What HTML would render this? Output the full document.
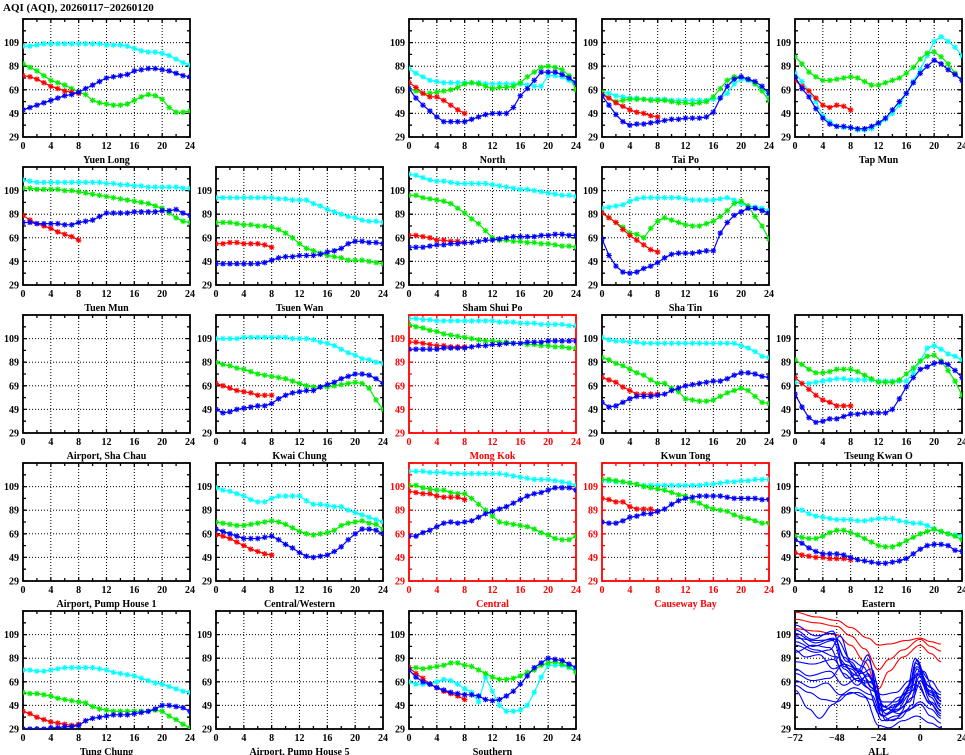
<!DOCTYPE html>
<html><head><meta charset="utf-8"><style>
html,body{margin:0;padding:0;background:#fff;}
svg{display:block;}
text{font-family:"Liberation Serif",serif;font-weight:bold;font-size:10px;}
</style></head><body>
<svg id="s" width="965" height="755" xmlns="http://www.w3.org/2000/svg">
<text x="3" y="11" style="font-size:11px">AQI (AQI), 20260117−20260120</text>
</svg>
<script>
const S=document.getElementById('s');
const NS='http://www.w3.org/2000/svg';
function el(t,a,txt){const e=document.createElementNS(NS,t);for(const k in a)e.setAttribute(k,a[k]);if(txt!==undefined)e.textContent=txt;S.appendChild(e);return e;}
const CX=[23,216,409,602,795],RY=[19,167,315,463,611],W=167,H=118;
const C={c:'#00ffff',g:'#00ee00',r:'#ff0000',b:'#0000ff'};
const add=(a,n)=>a.map(v=>v+n);
const P=[
{r:0,c:0,n:'Yuen Long',d:{
c:add([97,97,98,99,99,99,99,99,99,99,99,99,98,98,98,97,95,93,92,92,91,89,86,83,81],9),
g:add([82,79,76,72,68,66,64,61,58,56,51,49,48,47,47,48,51,54,56,55,52,45,41,41,42],9),
r:add([72,71,69,66,63,61,59,58,57],9),
b:add([44,46,48,50,52,54,56,57,59,62,65,68,71,72,73,74,77,78,79,79,78,77,75,73,72],8)}},
{r:0,c:2,n:'North',d:{
c:[87,83,80,77,76,75,75,75,75,75,75,74,74,74,74,74,74,73,72,72,81,81,80,77,75],
g:[70,68,66,66,67,68,69,71,74,75,74,72,70,71,71,72,75,80,84,88,89,88,86,81,69],
r:[75,71,66,63,63,60,56,52,49],
b:[70,62,56,51,46,42,42,42,42,44,46,48,49,49,49,54,64,70,77,84,84,84,82,79,75]}},
{r:0,c:3,n:'Tai Po',d:{
c:[67,66,64,63,62,62,61,61,61,61,60,60,60,60,60,60,61,62,66,74,78,77,74,70,64],
g:[67,62,59,60,61,61,61,60,60,60,59,58,58,57,58,59,63,70,77,80,80,78,74,68,60],
r:[65,62,58,55,52,50,49,47,46],
b:[64,56,48,42,39,40,40,41,42,43,44,44,45,45,45,46,50,62,72,78,80,78,76,72,66]}},
{r:0,c:4,n:'Tap Mun',d:{
c:[83,76,68,59,47,42,38,37,37,35,35,36,40,44,49,56,66,76,86,98,110,114,110,105,98],
g:[97,91,84,80,77,77,78,79,80,79,76,73,73,75,77,79,83,88,95,100,101,97,91,83,77],
r:[77,72,68,62,56,54,56,55,52],
b:[80,70,63,53,45,40,38,38,37,36,36,38,41,45,52,59,66,75,83,89,94,91,86,82,77]}},
{r:1,c:0,n:'Tuen Mun',d:{
c:[118,117,116,116,116,116,116,116,116,116,116,116,115,115,114,114,113,113,112,112,112,112,112,111,111],
g:[111,111,110,110,110,110,109,109,108,107,106,105,104,103,102,101,100,99,98,96,94,90,86,83,82],
r:[88,84,81,79,77,74,72,70,67],
b:[82,82,81,81,81,81,80,80,82,83,84,87,90,90,90,90,91,91,91,91,92,92,93,90,88]}},
{r:1,c:1,n:'Tsuen Wan',d:{
c:[103,103,103,103,103,103,103,103,103,102,102,101,101,101,98,96,93,91,89,87,86,84,83,83,82],
g:[82,82,82,81,80,80,79,79,78,76,73,69,64,60,58,56,54,53,52,50,50,50,49,48,47],
r:[64,64,65,65,64,64,64,63,61],
b:[47,47,47,47,47,47,47,48,50,52,53,53,54,54,54,55,57,58,60,64,66,66,65,65,64]}},
{r:1,c:2,n:'Sham Shui Po',d:{
c:[123,122,120,118,117,117,116,115,115,115,115,115,114,113,112,111,110,110,109,108,107,106,105,105,104],
g:[105,105,103,102,101,100,98,94,90,85,81,75,69,67,67,66,66,65,65,64,64,63,62,62,61],
r:[71,71,70,69,67,67,66,66,65],
b:[61,61,61,62,63,63,64,64,65,65,66,67,67,68,69,70,70,70,70,71,71,72,72,71,71]}},
{r:1,c:3,n:'Sha Tin',d:{
c:[94,95,96,97,100,102,103,103,103,103,103,103,102,101,101,101,101,102,103,101,98,96,95,94,92],
g:[90,86,82,78,73,72,69,77,83,86,84,82,80,79,79,81,83,87,92,98,100,96,87,79,68],
r:[90,86,82,76,71,67,63,59,57],
b:[68,54,45,40,39,40,43,45,48,52,55,56,56,56,57,58,58,73,82,88,91,94,94,92,90]}},
{r:2,c:0,n:'Airport, Sha Chau',d:{}},
{r:2,c:1,n:'Kwai Chung',d:{
c:[109,109,109,109,110,110,110,110,110,110,110,109,109,109,108,106,105,103,100,97,95,92,91,89,88],
g:[89,87,86,84,83,81,79,78,77,76,75,73,71,69,68,68,68,69,70,71,72,71,67,57,49],
r:[71,69,67,65,64,63,61,61,61],
b:[49,46,47,49,50,51,52,52,54,58,61,63,64,65,65,68,70,72,75,77,79,79,78,75,71]}},
{r:2,c:2,n:'Mong Kok',red:1,d:{
c:[126,126,125,125,124,124,124,124,124,124,124,124,124,123,123,123,122,122,122,121,121,121,121,120,120],
g:[121,119,118,116,115,113,112,111,110,109,108,107,107,106,106,105,105,104,104,103,103,102,102,101,101],
r:[106,106,105,104,103,103,102,102,102],
b:[100,100,100,100,100,101,101,101,101,102,103,103,104,104,105,105,105,106,106,106,107,107,107,107,107]}},
{r:2,c:3,n:'Kwun Tong',d:{
c:[110,108,107,107,106,106,105,105,105,105,105,105,105,105,105,105,105,105,105,105,103,101,98,94,93],
g:[93,91,88,86,83,80,78,74,71,71,67,64,58,57,56,56,57,60,63,65,67,65,60,55,54],
r:[76,74,72,68,65,62,62,62,62],
b:[55,51,52,55,58,60,60,60,61,62,65,67,69,70,71,72,73,73,75,78,80,80,79,77,76]}},
{r:2,c:4,n:'Tseung Kwan O',d:{
c:[72,71,71,72,73,74,75,75,74,74,74,74,73,73,73,73,73,80,90,101,103,100,96,94,91],
g:[91,87,83,80,80,81,83,83,83,81,78,75,72,72,72,74,79,84,90,94,95,90,82,73,61],
r:[76,71,66,61,57,55,52,52,52],
b:[62,51,42,38,39,41,41,43,45,45,46,46,46,46,49,58,68,76,83,85,88,89,87,82,76]}},
{r:3,c:0,n:'Airport, Pump House 1',d:{}},
{r:3,c:1,n:'Central/Western',d:{
c:[108,106,105,103,101,98,96,96,99,101,101,101,101,97,94,94,93,92,92,89,87,85,83,81,79],
g:[79,78,77,76,76,77,78,79,80,79,77,74,71,69,68,69,70,72,76,78,79,80,78,77,73],
r:[68,67,65,62,59,56,54,52,51],
b:[73,71,69,67,65,65,65,66,67,64,60,57,53,50,49,50,51,54,58,64,69,73,73,72,69]}},
{r:3,c:2,n:'Central',red:1,d:{
c:[122,122,122,121,121,121,120,120,120,120,120,120,120,120,119,118,117,116,115,115,115,114,113,112,110],
g:[110,110,108,107,106,106,104,103,103,99,94,89,84,79,78,77,76,75,73,70,68,65,64,64,67],
r:[105,104,103,103,101,100,100,100,98],
b:[67,67,70,72,75,78,79,78,79,80,83,86,88,90,92,95,98,101,103,104,106,108,108,108,106]}},
{r:3,c:3,n:'Causeway Bay',red:1,d:{
c:[114,114,113,113,112,111,110,110,110,110,110,110,110,110,110,111,111,112,113,113,114,114,115,115,115],
g:[115,115,114,113,112,111,109,108,107,106,104,102,101,97,95,92,90,89,88,85,83,82,80,78,78],
r:[99,98,96,96,92,90,90,90,88],
b:[79,78,78,80,83,84,86,86,88,90,94,97,99,100,101,101,101,101,100,99,99,99,99,98,98]}},
{r:3,c:4,n:'Eastern',d:{
c:[90,89,86,84,83,82,81,81,81,80,80,81,82,82,82,80,79,78,78,76,73,71,69,68,67],
g:[67,66,65,65,67,70,72,72,70,68,65,62,59,58,58,60,63,66,69,71,73,71,69,67,64],
r:[53,51,50,49,49,48,48,48,47],
b:[64,61,57,54,52,52,52,51,49,47,46,45,44,44,45,46,48,52,56,59,60,60,59,55,54]}},
{r:4,c:0,n:'Tung Chung',d:{
c:[79,79,78,78,79,80,81,81,81,81,81,80,79,77,76,75,74,72,70,68,67,65,63,61,60],
g:[60,59,59,58,57,55,54,53,52,51,48,46,45,44,44,44,44,44,44,45,44,40,37,33,30],
r:[44,42,39,37,35,34,33,32,33],
b:[29,29,29,29,30,30,31,31,32,36,38,39,40,41,41,41,42,43,44,46,49,49,48,47,44]}},
{r:4,c:1,n:'Airport, Pump House 5',d:{}},
{r:4,c:2,n:'Southern',d:{
c:[69,67,67,67,69,71,70,67,63,60,52,73,61,49,44,44,45,49,60,73,83,83,83,81,79],
g:[81,81,80,81,82,83,85,85,83,82,79,76,73,71,71,72,74,77,79,83,85,86,84,82,77],
r:[81,76,72,67,64,61,59,57,54],
b:[79,73,69,67,64,62,60,59,58,58,57,54,53,54,57,61,67,74,81,85,89,88,87,84,81]}}
];
function star(x,y){const s=2.8,d=2.1;return `M${x-s},${y}h${2*s}M${x},${y-s}v${2*s}M${x-d},${y-d}l${2*d},${2*d}M${x-d},${y+d}l${2*d},${-2*d}`;}
function frame(x0,y0,col,xl,xmin,xmax,xstep,name){
  const tc=col;
  let gp='';
  for(let v=xmin+xstep;v<xmax;v+=xstep){const x=x0+(v-xmin)/(xmax-xmin)*W;gp+=`M${x},${y0}V${y0+H}`;}
  for(const v of [49,69,89,109]){const y=y0+H-(v-29)*1.18;gp+=`M${x0},${y}H${x0+W}`;}
  el('path',{d:gp,stroke:'#000','stroke-width':1,'stroke-dasharray':'1,2',fill:'none'});
  let tp='';
  const minor=xstep/2;
  for(let v=xmin;v<=xmax+0.01;v+=minor){const x=x0+(v-xmin)/(xmax-xmin)*W;const L=((v-xmin)%xstep===0)?4:3;tp+=`M${x},${y0}v${L}M${x},${y0+H}v${-L}`;}
  for(let v=29;v<=129;v+=10){const y=y0+H-(v-29)*1.18;const L=((v-29)%20===0)?4:3;tp+=`M${x0},${y}h${L}M${x0+W},${y}h${-L}`;}
  el('path',{d:tp,stroke:col,'stroke-width':1.3,fill:'none'});
  el('rect',{x:x0,y:y0,width:W,height:H,fill:'none',stroke:col,'stroke-width':1.8});
  for(const v of [29,49,69,89,109]){const y=y0+H-(v-29)*1.18;el('text',{x:x0-4,y:y+3.5,'text-anchor':'end',fill:tc},String(v));}
  for(let v=xmin;v<=xmax;v+=xstep){const x=x0+(v-xmin)/(xmax-xmin)*W;el('text',{x:x,y:y0+H+12,'text-anchor':'middle',fill:tc},String(v).replace('-','−'));}
  el('text',{x:x0+W/2,y:y0+H+26,'text-anchor':'middle',fill:tc},name);
}
P.forEach((p,i)=>{
  const x0=CX[p.c],y0=RY[p.r];const col=p.red?'#ff0000':'#000';
  const cid='cp'+i;
  const cp=el('clipPath',{id:cid});
  const r=document.createElementNS(NS,'rect');r.setAttribute('x',x0);r.setAttribute('y',y0);r.setAttribute('width',W);r.setAttribute('height',H);cp.appendChild(r);
  frame(x0,y0,col,null,0,24,4,p.n);
  for(const k of ['c','g','r','b']){
    const a=p.d[k];if(!a)continue;
    let d='',m='';
    a.forEach((v,h)=>{const x=x0+h/24*W,y=y0+H-(v-29)*1.18;d+=(h?'L':'M')+x.toFixed(1)+','+y.toFixed(1);m+=star(x,y);});
    el('path',{d:d,stroke:C[k],'stroke-width':1.2,fill:'none','clip-path':`url(#${cid})`});
    el('path',{d:m,stroke:C[k],'stroke-width':1.1,fill:'none','clip-path':`url(#${cid})`});
  }
});
(function(){
  const x0=CX[4],y0=RY[4];
  const cid='cpall';const cp=el('clipPath',{id:cid});
  const r=document.createElementNS(NS,'rect');r.setAttribute('x',x0);r.setAttribute('y',y0);r.setAttribute('width',W);r.setAttribute('height',H);cp.appendChild(r);
  frame(x0,y0,'#000',null,-72,24,24,'ALL');
  const X=t=>x0+(t+72)/96*W, Y=v=>y0+H-(v-29)*1.18;
  function line(pts,col){let d='';
    for(let t=-72;t<=12;t+=1){
      let v=pts[0][1];
      for(let j=0;j<pts.length-1;j++){if(t>=pts[j][0]&&t<=pts[j+1][0]){const f=(t-pts[j][0])/(pts[j+1][0]-pts[j][0]);const s=(1-Math.cos(f*Math.PI))/2;v=pts[j][1]*(1-s)+pts[j+1][1]*s;}}
      d+=(d?'L':'M')+X(t).toFixed(1)+','+Y(v).toFixed(1);}
    el('path',{d:d,stroke:col,'stroke-width':1.1,fill:'none','clip-path':`url(#${cid})`});}
  line([[-72,128],[-60,124],[-48,121],[-40,115],[-30,106],[-24,100],[-18,101],[-8,104],[0,106],[6,103],[12,101]],'#ff0000');
  line([[-72,122],[-60,119],[-48,116],[-40,108],[-32,97],[-24,79],[-18,88],[-10,96],[0,105],[6,99],[12,95]],'#ff0000');
  line([[-72,114],[-60,112],[-48,109],[-40,100],[-32,86],[-24,63],[-18,78],[-10,90],[0,100],[6,93],[12,86]],'#ff0000');
  const B=[
   [[-72,117],[-60,108],[-50,110],[-44,90],[-36,78],[-30,92],[-24,50],[-16,45],[-8,60],[-3,89],[4,66],[12,58]],
   [[-72,113],[-62,105],[-50,112],[-44,82],[-36,74],[-30,88],[-22,45],[-14,48],[-6,62],[-2,88],[5,62],[12,53]],
   [[-72,110],[-60,102],[-50,106],[-42,86],[-34,76],[-28,80],[-22,52],[-14,52],[-6,66],[-3,85],[6,70],[12,60]],
   [[-72,106],[-60,104],[-48,105],[-40,88],[-33,82],[-28,72],[-22,40],[-14,44],[-6,58],[-2,80],[6,60],[12,47]],
   [[-72,108],[-62,99],[-50,104],[-44,80],[-36,70],[-30,74],[-22,48],[-12,42],[-4,62],[-1,78],[6,56],[12,44]],
   [[-72,103],[-60,96],[-48,90],[-40,80],[-32,68],[-26,70],[-20,36],[-12,38],[-4,50],[-2,70],[5,52],[12,40]],
   [[-72,94],[-62,100],[-52,98],[-44,76],[-36,66],[-30,76],[-22,44],[-14,50],[-6,60],[-2,76],[6,58],[12,50]],
   [[-72,86],[-62,84],[-50,88],[-42,72],[-34,78],[-28,64],[-22,58],[-14,60],[-6,70],[-2,82],[6,64],[12,55]],
   [[-72,80],[-64,74],[-52,78],[-44,66],[-36,72],[-28,62],[-20,48],[-12,56],[-4,66],[0,74],[6,58],[12,50]],
   [[-72,76],[-62,70],[-52,72],[-44,84],[-36,80],[-28,68],[-22,40],[-12,46],[-4,56],[0,70],[6,52],[12,45]],
   [[-72,70],[-62,64],[-54,68],[-46,58],[-38,64],[-28,58],[-22,40],[-14,44],[-6,52],[-2,66],[6,50],[12,42]],
   [[-72,62],[-64,46],[-58,38],[-50,50],[-44,58],[-36,60],[-28,54],[-22,36],[-14,40],[-6,46],[0,50],[6,40],[12,34]],
   [[-72,96],[-66,90],[-58,92],[-50,80],[-44,84],[-36,70],[-30,64],[-24,42],[-16,36],[-8,44],[0,52],[6,46],[12,38]],
   [[-72,66],[-64,60],[-56,54],[-48,52],[-40,60],[-32,56],[-24,32],[-18,30],[-10,36],[-2,40],[6,34],[12,30]],
   [[-72,100],[-60,94],[-52,96],[-46,108],[-40,86],[-32,70],[-26,62],[-20,42],[-12,50],[-4,72],[2,78],[8,60],[12,52]]
  ];
  B.forEach(b=>line(b,'#0000ff'));
})();
</script>
</body></html>
